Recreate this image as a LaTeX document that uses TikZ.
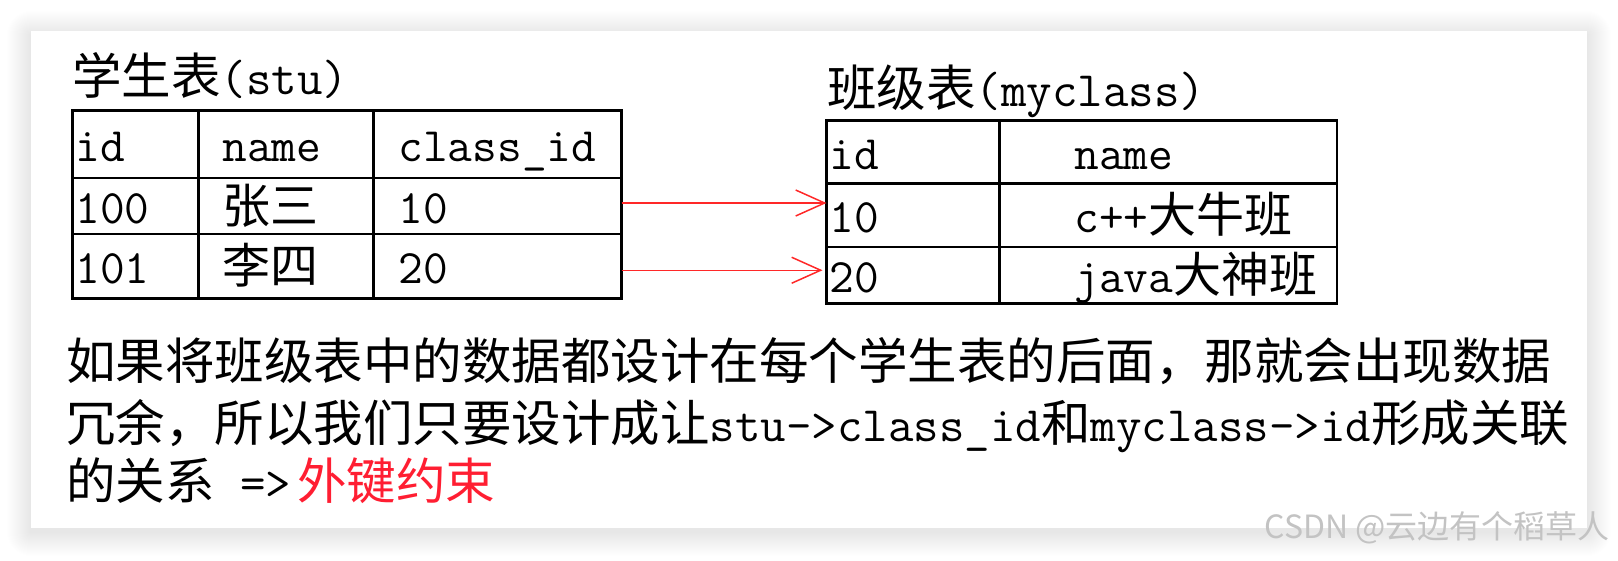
\documentclass[tikz,border=0pt]{standalone}
\usepackage{fontspec}
\newfontfamily\cjk{Noto Sans CJK SC}
\usetikzlibrary{arrows.meta}
\definecolor{fkred}{RGB}{255,30,50}
\definecolor{linkred}{RGB}{255,40,40}
\definecolor{markgray}{RGB}{195,195,195}
\tikzset{
  cell/.style={draw, line width=2.2pt, anchor=north west, outer sep=0pt, inner sep=0pt,
    align=left, text height=41pt, text depth=7pt, font=\ttfamily\fontsize{48}{48}\selectfont},
  cellsize/.style 2 args={minimum width=#1pt, text width=#1pt, minimum height=#2pt},
  title/.style={anchor=base west, inner sep=0pt, font=\ttfamily\fontsize{49.5}{49.5}\selectfont},
  para/.style={anchor=base west, inner sep=0pt, font=\ttfamily\fontsize{49.5}{49.5}\selectfont},
  link/.style={draw=linkred, line width=1.5pt, -{Straight Barb[length=29pt,width=26pt]}}
}
\begin{document}
\begin{tikzpicture}[x=1pt, y=-1pt]
\useasboundingbox (0,0) rectangle (1618,560);
% card with soft shadow
\foreach \r in {1,...,24}
  \fill[black, opacity=0.004, rounded corners=\r] (31-\r,35-\r) rectangle (1587+\r,532+\r);
\fill[white] (31,31) rectangle (1587,528);
% titles
\node[title] (stutitle) at (72,94) {{\cjk 学生表}(stu)};
\node[title] (clstitle) at (827,106) {{\cjk 班级表}(myclass)};
% stu table
\node[cell, cellsize={126}{67.5}] (stu11) at (72.5,110.5) {\hspace*{3pt}id};
\node[cell, cellsize={175}{67.5}] (stu12) at (198.5,110.5) {\hspace*{24pt}name};
\node[cell, cellsize={248}{67.5}] (stu13) at (373.5,110.5) {\hspace*{25pt}class\_id};
\node[cell, cellsize={126}{56}] (stu21) at (72.5,178) {\hspace*{3pt}100};
\node[cell, cellsize={175}{56}] (stu22) at (198.5,178) {\hspace*{24pt}{\cjk 张三}};
\node[cell, cellsize={248}{56}] (stu23) at (373.5,178) {\hspace*{25pt}10};
\node[cell, cellsize={126}{64.5}] (stu31) at (72.5,234) {\hspace*{3pt}101};
\node[cell, cellsize={175}{64.5}] (stu32) at (198.5,234) {\hspace*{24pt}{\cjk 李四}};
\node[cell, cellsize={248}{64.5}] (stu33) at (373.5,234) {\hspace*{25pt}20};
% myclass table
\node[cell, cellsize={173}{63}] (cls11) at (826.5,120.5) {\hspace*{3pt}id};
\node[cell, cellsize={337.5}{63}] (cls12) at (999.5,120.5) {\hspace*{75pt}name};
\node[cell, cellsize={173}{63.5}] (cls21) at (826.5,183.5) {\hspace*{3pt}10};
\node[cell, cellsize={337.5}{63.5}] (cls22) at (999.5,183.5) {\hspace*{75pt}c++{\cjk 大牛班}};
\node[cell, cellsize={173}{56.5}] (cls31) at (826.5,247) {\hspace*{3pt}20};
\node[cell, cellsize={337.5}{56.5}] (cls32) at (999.5,247) {\hspace*{75pt}java{\cjk 大神班}};
% foreign key links
\coordinate (fk1) at ([yshift=3pt]stu23.east);
\coordinate (fk2) at ([yshift=-4pt]stu33.east);
\draw[link] (fk1) -- (fk1 -| cls21.west);
\draw[link, shorten >=4pt] (fk2) -- (fk2 -| cls31.west);
% text below
\node[para] (line1) at (66,379) {\cjk 如果将班级表中的数据都设计在每个学生表的后面，那就会出现数据};
\node[para] (line2) at (66,441) {{\cjk 冗余，所以我们只要设计成让}stu->class\_id{\cjk 和}myclass->id{\cjk 形成关联}};
\node[para] (line3) at (66,499) {{\cjk 的关系}\ =>{\color{fkred}\cjk\hspace{6pt}外键约束}};
% watermark
\node[anchor=base east, inner sep=0pt, text=markgray, font=\cjk\fontsize{32}{32}\selectfont] (mark) at (1610,538) {CSDN @云边有个稻草人};
\end{tikzpicture}
\end{document}
